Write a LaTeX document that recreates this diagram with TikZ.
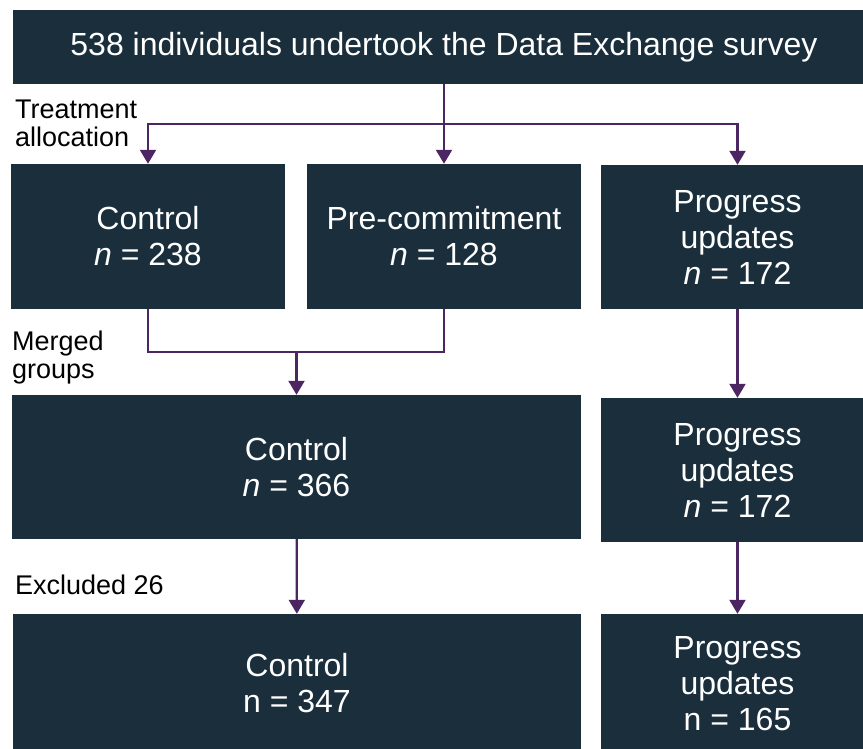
\documentclass[tikz,border=0pt]{standalone}
\usepackage{fontspec}
\setmainfont{Liberation Sans}
\usetikzlibrary{arrows.meta}
\definecolor{boxnavy}{HTML}{1A2E3C}
\definecolor{flowpurple}{HTML}{4B2662}
\tikzstyle{groupbox} = [fill=boxnavy, text=white, rectangle, inner sep=0pt, align=center, minimum width=274pt, font=\fontsize{32}{36}\selectfont]
\tikzstyle{sidelabel} = [anchor=north west, inner sep=0pt, align=left, text=black, font=\fontsize{27}{28}\selectfont]
\tikzstyle{flowline} = [draw=flowpurple, line width=2.2pt]
\tikzstyle{flowarrow} = [flowline, -{Triangle[width=16pt,length=14pt]}]

\begin{document}
\begin{tikzpicture}[x=1pt,y=-1pt]
\useasboundingbox (0,0) rectangle (863,749);
\clip (0,0) rectangle (863,749);
% survey and allocation
\node [groupbox, minimum width=862pt, minimum height=74pt] (survey) at (444,47) {538 individuals undertook the Data Exchange survey};
\node [groupbox, minimum height=145pt] (control) at (148,236.5) {Control\\\textit{n} = 238};
\node [groupbox, minimum height=145pt] (precommit) at (444,236.5) {Pre-commitment\\\textit{n} = 128};
\node [groupbox, minimum height=144pt] (progress) at (737.5,237) {Progress\\updates\\\textit{n} = 172};
% merged groups
\node [groupbox, minimum width=569pt, minimum height=144pt] (merged) at (296.5,467) {Control\\\textit{n} = 366};
\node [groupbox, minimum height=144pt] (progressb) at (737.5,470) {Progress\\updates\\\textit{n} = 172};
% after exclusion
\node [groupbox, minimum width=568pt, minimum height=139pt] (final) at (297,683.5) {Control\\n = 347};
\node [groupbox, minimum height=139pt] (progressc) at (737.5,683.5) {Progress\\updates\\n = 165};
% side labels
\node [sidelabel] (alloclabel) at (15,100) {Treatment\\allocation};
\node [sidelabel] (mergelabel) at (12,331) {Merged\\groups};
\node [sidelabel] (excllabel) at (15,575) {Excluded 26};
% connectors
\coordinate (split) at (444,124);
\coordinate (join) at (296.5,352);
\draw [flowarrow] (survey.south) -- (precommit.north);
\draw [flowarrow] (split) -| (control.north);
\draw [flowarrow] (split) -| (progress.north);
\draw [flowline] (control.south) |- (join) -| (precommit.south);
\draw [flowarrow] (join) -- (merged.north);
\draw [flowarrow] (progress) -- (progressb);
\draw [flowarrow] (merged) -- (final);
\draw [flowarrow] (progressb) -- (progressc);
\end{tikzpicture}
\end{document}
